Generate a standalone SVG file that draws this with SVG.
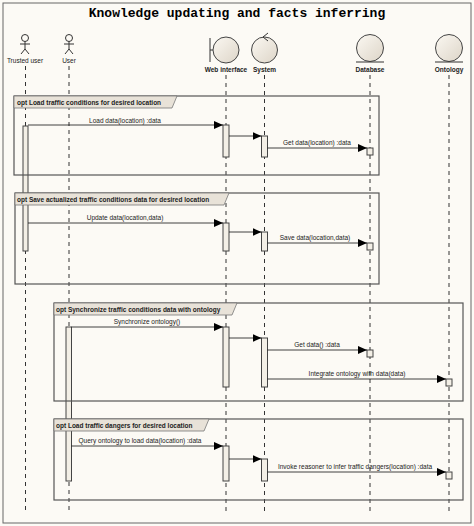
<svg xmlns="http://www.w3.org/2000/svg" width="474" height="526" viewBox="0 0 474 526">
<defs>
<linearGradient id="g" x1="0" y1="0" x2="1" y2="1"><stop offset="0" stop-color="#fbf8f2"/><stop offset="1" stop-color="#ddd5c8"/></linearGradient>
<marker id="a" markerWidth="10" markerHeight="8" refX="9" refY="4" orient="auto" markerUnits="userSpaceOnUse"><path d="M0,0 L9,4 L0,8 z" fill="#000"/></marker>
</defs>
<style>
text{font-family:"Liberation Sans",Arial,sans-serif;font-size:6.5px;fill:#222}
.t{font-family:"Liberation Mono","Courier New",monospace;font-size:13px;font-weight:bold;fill:#000}
.b{font-weight:bold;font-size:6.5px}
.ll{stroke:#333;stroke-width:1;stroke-dasharray:4,4;fill:none}
.fr{fill:none;stroke:#555;stroke-width:1.2}
.tab{fill:#e8e2d8;stroke:#777;stroke-width:0.8}
.act{fill:#f3efe6;stroke:#444;stroke-width:1}
.m{stroke:#111;stroke-width:0.8;marker-end:url(#a)}
.ic{fill:url(#g);stroke:#444;stroke-width:1}
.st{stroke:#333;stroke-width:1;fill:none}
</style>
<rect x="0" y="0" width="474" height="526" fill="#fcfaf5"/>
<rect x="3" y="3" width="468" height="520" fill="none" stroke="#666" stroke-width="1"/>
<text class="t" x="237" y="17" text-anchor="middle">Knowledge updating and facts inferring</text>
<g id="trusted-user">
<circle cx="25" cy="38" r="3.5" class="st" fill="#fff"/>
<path class="st" d="M25,41.5 V49 M20,44 H30 M25,49 L21,54 M25,49 L29,54"/>
<text x="25" y="63" text-anchor="middle" font-size="6">Trusted user</text>
<line class="ll" x1="25.5" y1="66" x2="25.5" y2="512"/>
</g>
<g id="user">
<circle cx="69" cy="38" r="3.5" class="st" fill="#fff"/>
<path class="st" d="M69,41.5 V49 M64,44 H74 M69,49 L65,54 M69,49 L73,54"/>
<text x="69" y="63" text-anchor="middle" font-size="6">User</text>
<line class="ll" x1="69" y1="66" x2="69" y2="512"/>
</g>
<g id="web-interface">
<line class="st" x1="210" y1="38" x2="210" y2="62"/>
<line class="st" x1="210" y1="50" x2="213" y2="50"/>
<circle class="ic" cx="226" cy="50" r="13"/>
<text class="b" x="226" y="72" text-anchor="middle">Web interface</text>
<line class="ll" x1="226" y1="75" x2="226" y2="512"/>
</g>
<g id="system">
<circle class="ic" cx="264.5" cy="50" r="13"/>
<path class="st" d="M268,33 L263,37 L268,41"/>
<text class="b" x="264.5" y="72" text-anchor="middle">System</text>
<line class="ll" x1="264.5" y1="75" x2="264.5" y2="512"/>
</g>
<g id="database">
<circle class="ic" cx="370" cy="48" r="13.5"/>
<line class="st" x1="356" y1="62" x2="384" y2="62"/>
<text class="b" x="370" y="72" text-anchor="middle">Database</text>
<line class="ll" x1="370" y1="75" x2="370" y2="512"/>
</g>
<g id="ontology">
<circle class="ic" cx="449" cy="48" r="13.5"/>
<line class="st" x1="435" y1="62" x2="463" y2="62"/>
<text class="b" x="449" y="72" text-anchor="middle">Ontology</text>
<line class="ll" x1="449" y1="75" x2="449" y2="512"/>
</g>
<g id="activations">
<rect class="act" x="23" y="126" width="5" height="125"/>
<rect class="act" x="223" y="125" width="6" height="32"/>
<rect class="act" x="261.5" y="136" width="6" height="21"/>
<rect class="act" x="367" y="148" width="6" height="7"/>
<rect class="act" x="223" y="223" width="6" height="28"/>
<rect class="act" x="261.5" y="232" width="6" height="19"/>
<rect class="act" x="367" y="243" width="6" height="7"/>
<rect class="act" x="66" y="327" width="5.5" height="154"/>
<rect class="act" x="223" y="327" width="6" height="60"/>
<rect class="act" x="261.5" y="338" width="6" height="49"/>
<rect class="act" x="367" y="350" width="6" height="7"/>
<rect class="act" x="446" y="379" width="6" height="7"/>
<rect class="act" x="223" y="446" width="6" height="35"/>
<rect class="act" x="261.5" y="459" width="6" height="22"/>
<rect class="act" x="446" y="472" width="6" height="7"/>
</g>
<g id="frame1">
<rect class="fr" x="14" y="96" width="365" height="79"/>
<path class="tab" d="M14,96 H177 L172,108 H14 z"/>
<text class="b" x="17" y="104.5">opt Load traffic conditions for desired location</text>
</g>
<g id="frame2">
<rect class="fr" x="15" y="193" width="364" height="91"/>
<path class="tab" d="M15,193 H229 L224,205 H15 z"/>
<text class="b" x="17" y="201.5">opt Save actualized traffic conditions data for desired location</text>
</g>
<g id="frame3">
<rect class="fr" x="54" y="303" width="409" height="98"/>
<path class="tab" d="M54,303 H237 L232,315 H54 z"/>
<text class="b" x="56" y="311.5">opt Synchronize traffic conditions data with ontology</text>
</g>
<g id="frame4">
<rect class="fr" x="54" y="419" width="409" height="81"/>
<path class="tab" d="M54,419 H209 L204,431 H54 z"/>
<text class="b" x="56" y="427.5">opt Load traffic dangers for desired location</text>
</g>
<g id="connectors">
<line class="m" x1="28" y1="125" x2="223" y2="125"/>
<text x="125" y="123" text-anchor="middle">Load data(location) :data</text>
<line class="m" x1="229" y1="136" x2="261.5" y2="136"/>
<line class="m" x1="267.5" y1="148" x2="367" y2="148"/>
<text x="317" y="145" text-anchor="middle">Get data(location) :data</text>
<line class="m" x1="28" y1="223" x2="223" y2="223"/>
<text x="125" y="220" text-anchor="middle">Update data(location,data)</text>
<line class="m" x1="229" y1="232" x2="261.5" y2="232"/>
<line class="m" x1="267.5" y1="243" x2="367" y2="243"/>
<text x="315" y="240" text-anchor="middle">Save data(location,data)</text>
<line class="m" x1="71.5" y1="327" x2="223" y2="327"/>
<text x="147" y="324" text-anchor="middle">Synchronize ontology()</text>
<line class="m" x1="229" y1="338" x2="261.5" y2="338"/>
<line class="m" x1="267.5" y1="350" x2="367" y2="350"/>
<text x="317" y="347" text-anchor="middle">Get data() :data</text>
<line class="m" x1="267.5" y1="379" x2="446" y2="379"/>
<text x="357" y="376" text-anchor="middle">Integrate ontology with data(data)</text>
<line class="m" x1="71.5" y1="446" x2="223" y2="446"/>
<text x="140" y="443" text-anchor="middle">Query ontology to load data(location) :data</text>
<line class="m" x1="229" y1="459" x2="261.5" y2="459"/>
<line class="m" x1="267.5" y1="472" x2="446" y2="472"/>
<text x="355" y="469" text-anchor="middle">Invoke reasoner to infer traffic dangers(location) :data</text>
</g>
</svg>
